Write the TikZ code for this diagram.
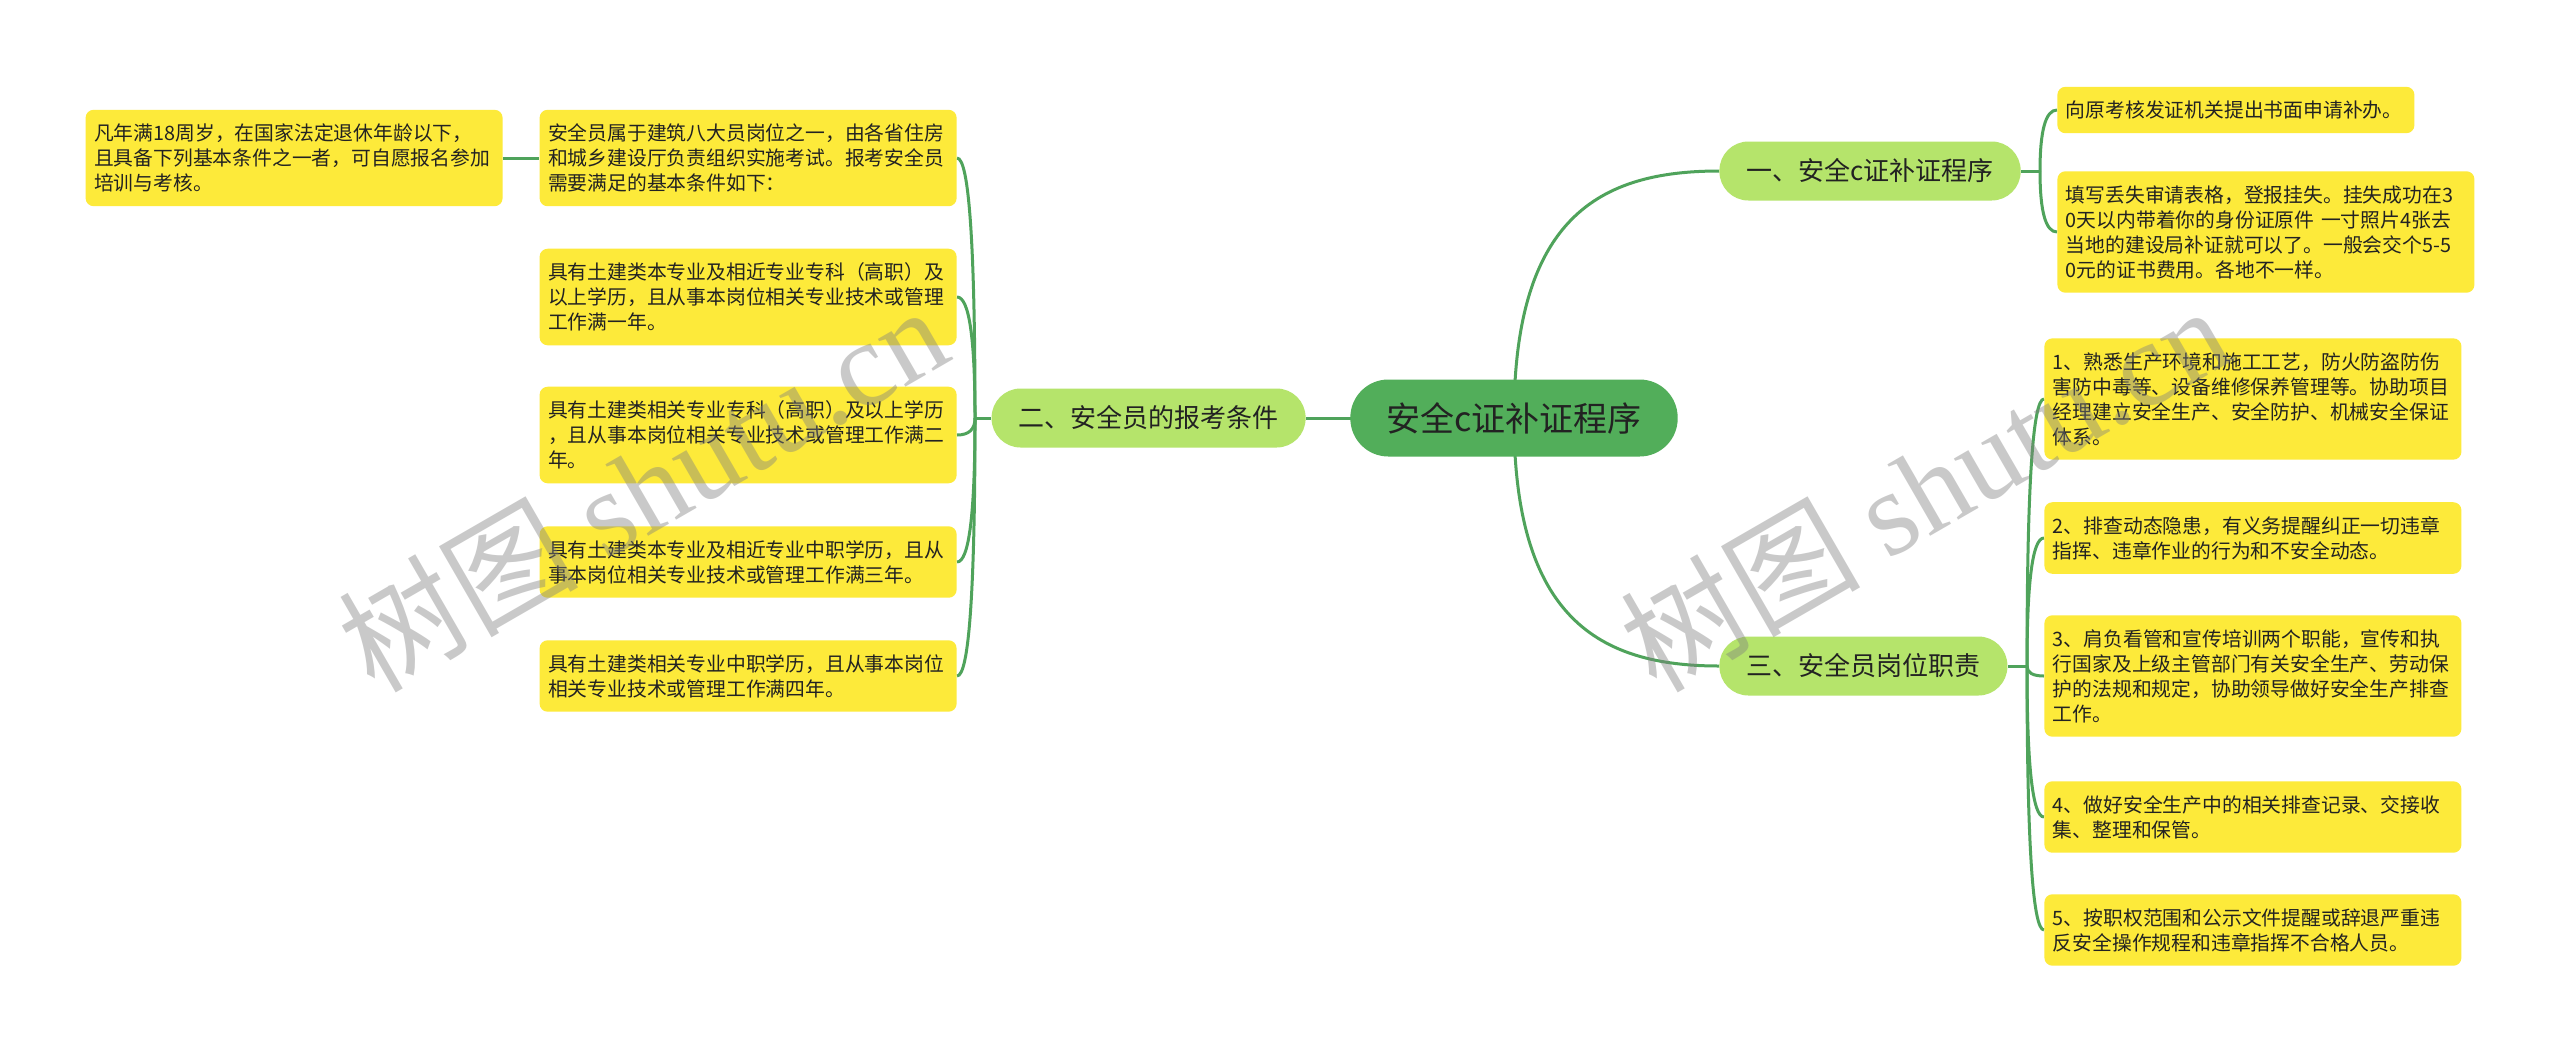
\documentclass[tikz,border=0pt]{standalone}
\usepackage{fontspec}
\setmainfont{Noto Sans CJK SC}
\newfontfamily\wmlatin{Liberation Serif}
\usetikzlibrary{
  backgrounds,
  calc,
}
\definecolor{rootgreen}{HTML}{52AE5A}
\definecolor{branchgreen}{HTML}{B5E46B}
\definecolor{leafyellow}{HTML}{FDEA3A}
\definecolor{linkgreen}{HTML}{4FA35B}
\definecolor{textdark}{HTML}{222222}
\tikzset{
  mindroot/.style={fill=rootgreen, text=textdark, rounded corners=19pt, minimum height=38.5pt, inner xsep=18pt, font=\fontsize{17pt}{20pt}\selectfont},
  branch/.style={fill=branchgreen, text=textdark, rounded corners=14.5pt, minimum height=29.5pt, inner xsep=13.5pt, font=\fontsize{13pt}{16pt}\selectfont},
  leaf/.style={fill=leafyellow, text=textdark, rounded corners=4pt, inner xsep=4.25pt, inner ysep=7pt, text width=200pt, align=left, font=\fontsize{9.9pt}{12.5pt}\selectfont},
  link/.style={draw=linkgreen, line width=1.5pt},
  watermark/.style={text=gray, text opacity=0.42, rotate=30, font=\fontsize{60pt}{64pt}\selectfont},
}

\begin{document}
\begin{tikzpicture}[x=0.5pt, y=-0.5pt]
      \useasboundingbox (0, 0) rectangle (2560, 1051);
      \node [mindroot] (root) at (1514, 418) {安全c证补证程序};
      \node [branch, anchor=west] (b1) at (1719, 171) {一、安全c证补证程序};
      \node [branch, anchor=east] (b2) at (1306, 418) {二、安全员的报考条件};
      \node [branch, anchor=west] (b3) at (1719, 666) {三、安全员岗位职责};

      \node [leaf, anchor=east] (req) at (503, 158) {凡年满18周岁，在国家法定退休年龄以下，\\且具备下列基本条件之一者，可自愿报名参加\\培训与考核。};
      \node [leaf, anchor=east] (l1) at (957, 158) {安全员属于建筑八大员岗位之一，由各省住房\\和城乡建设厅负责组织实施考试。报考安全员\\需要满足的基本条件如下：};
      \node [leaf, anchor=east] (l2) at (957, 297) {具有土建类本专业及相近专业专科（高职）及\\以上学历，且从事本岗位相关专业技术或管理\\工作满一年。};
      \node [leaf, anchor=east] (l3) at (957, 435) {具有土建类相关专业专科（高职）及以上学历\\，且从事本岗位相关专业技术或管理工作满二\\年。};
      \node [leaf, anchor=east] (l4) at (957, 562) {具有土建类本专业及相近专业中职学历，且从\\事本岗位相关专业技术或管理工作满三年。};
      \node [leaf, anchor=east] (l5) at (957, 676) {具有土建类相关专业中职学历，且从事本岗位\\相关专业技术或管理工作满四年。};

      \node [leaf, anchor=west, text width=170pt] (r1) at (2057, 110) {向原考核发证机关提出书面申请补办。};
      \node [leaf, anchor=west] (r2) at (2057, 232) {填写丢失审请表格，登报挂失。挂失成功在3\\0天以内带着你的身份证原件 一寸照片4张去\\当地的建设局补证就可以了。一般会交个5-5\\0元的证书费用。各地不一样。};

      \node [leaf, anchor=west] (d1) at (2044, 399) {1、熟悉生产环境和施工工艺，防火防盗防伤\\害防中毒等、设备维修保养管理等。协助项目\\经理建立安全生产、安全防护、机械安全保证\\体系。};
      \node [leaf, anchor=west] (d2) at (2044, 538) {2、排查动态隐患，有义务提醒纠正一切违章\\指挥、违章作业的行为和不安全动态。};
      \node [leaf, anchor=west] (d3) at (2044, 676) {3、肩负看管和宣传培训两个职能，宣传和执\\行国家及上级主管部门有关安全生产、劳动保\\护的法规和规定，协助领导做好安全生产排查\\工作。};
      \node [leaf, anchor=west] (d4) at (2044, 817) {4、做好安全生产中的相关排查记录、交接收\\集、整理和保管。};
      \node [leaf, anchor=west] (d5) at (2044, 930) {5、按职权范围和公示文件提醒或辞退严重违\\反安全操作规程和违章指挥不合格人员。};

      \coordinate (lsp) at (975, 418);
      \coordinate (rsp) at (2040, 171);
      \coordinate (dsp) at (2027, 666);

      \begin{scope}[on background layer]
        \fill [white] (0, 0) rectangle (2560, 1051);
        \draw [link] (root.center) -- (b2.east);
        \draw [link] (root.center) .. controls +(0, -200) and +(-120, 0) .. (b1.west);
        \draw [link] (root.center) .. controls +(0, 200) and +(-120, 0) .. (b3.west);
        \draw [link] (req.east) -- (l1.west);
        \draw [link] (b2.west) -- (lsp);
        \draw [link] (b1.east) -- (rsp);
        \draw [link] (b3.east) -- (dsp);
        \foreach \n in {l1, l2, l3, l4, l5}
        {
          \draw [link] (lsp) .. controls ($(lsp)!0.667!(lsp |- \n.east)$) and ($(\n.east)!0.667!(lsp |- \n.east)$) .. (\n.east);
        }
        \foreach \n in {r1, r2}
        {
          \draw [link] (rsp) .. controls ($(rsp)!0.667!(rsp |- \n.west)$) and ($(\n.west)!0.667!(rsp |- \n.west)$) .. (\n.west);
        }
        \foreach \n in {d1, d2, d3, d4, d5}
        {
          \draw [link] (dsp) .. controls ($(dsp)!0.667!(dsp |- \n.west)$) and ($(\n.west)!0.667!(dsp |- \n.west)$) .. (\n.west);
        }
      \end{scope}

      \node [watermark] (wm1) at (642, 487) {树图 {\wmlatin shutu.cn}};
      \node [watermark] (wm2) at (1924, 487) {树图 {\wmlatin shutu.cn}};
\end{tikzpicture}
\end{document}
